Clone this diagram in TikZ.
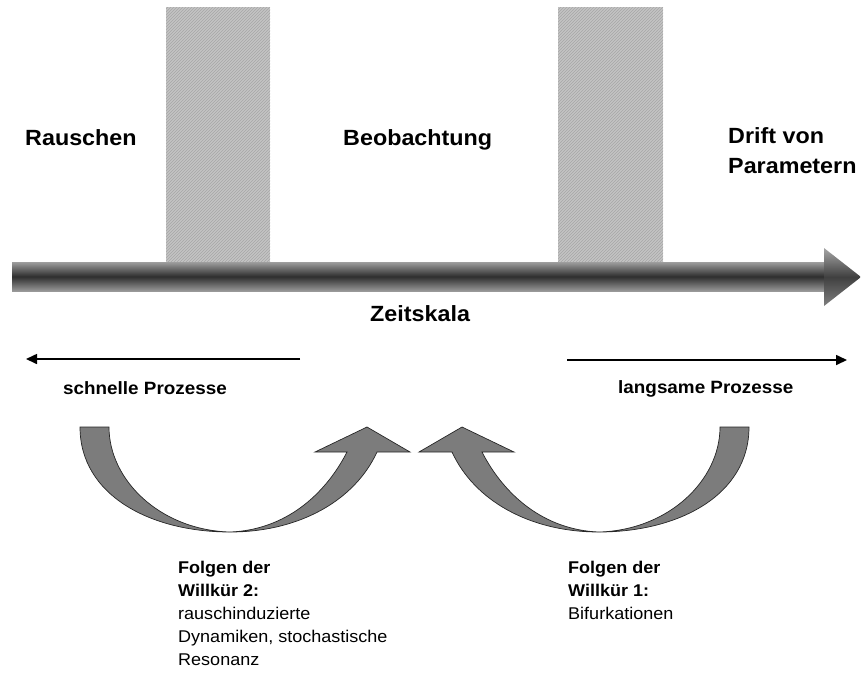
\documentclass[tikz,border=0pt]{standalone}
\usepackage{fontspec}
\setmainfont{Liberation Sans}[FakeStretch=1.06]
\usetikzlibrary{arrows.meta,patterns}
\definecolor{barfill}{HTML}{C4C4C4}
\definecolor{barline}{HTML}{A6A6A6}
\definecolor{curvefill}{HTML}{7C7C7C}
\tikzset{
  bigtxt/.style={font=\fontsize{22}{30}\selectfont\bfseries, inner sep=0pt, anchor=base west},
  smalltxt/.style={font=\fontsize{17.8}{23}\selectfont\bfseries, inner sep=0pt, anchor=base west},
  blocktxt/.style={font=\fontsize{17}{23}\selectfont, inner sep=0pt, anchor=north west, align=left},
  thinarrow/.style={line width=1.6pt, -{Triangle[length=11pt,width=10pt]}},
  curvearrow/.style={fill=curvefill, draw=black!85, line width=0.7pt, line join=miter},
  window/.style={fill=barfill, draw=none},
  windowhatch/.style={pattern=north east lines, pattern color=barline, draw=none}
}
\begin{document}
\begin{tikzpicture}[x=1pt,y=-1pt]
\useasboundingbox (0,0) rectangle (861,673);
% observation windows
\fill[window] (166,7) rectangle (270,263);
\fill[windowhatch] (166,7) rectangle (270,263);
\fill[window] (558,7) rectangle (663,263);
\fill[windowhatch] (558,7) rectangle (663,263);
% time axis arrow
\shade[top color=black!38, bottom color=black!40, middle color=black!82] (12,262) rectangle (824,291);
\shade[top color=black!35, bottom color=black!50, middle color=black!75] (824,248) -- (861,277) -- (824,306) -- cycle;
% labels
\node[bigtxt] (rausch) at (25,145) {Rauschen};
\node[bigtxt] (beob) at (343,145) {Beobachtung};
\node[bigtxt] (drift1) at (728,143) {Drift von};
\node[bigtxt] (drift2) at (728,173) {Parametern};
\node[bigtxt] (zeit) at (370,321) {Zeitskala};
% fast / slow arrows
\coordinate (fs) at (300,359);
\coordinate (fe) at (26,359);
\coordinate (ss) at (567,360);
\coordinate (se) at (847,360);
\draw[thinarrow] (fs) -- (fe);
\draw[thinarrow] (ss) -- (se);
\node[smalltxt] (schnell) at (63,394) {schnelle Prozesse};
\node[smalltxt] (langsam) at (618,393) {langsame Prozesse};
% curved arrows
\draw[curvearrow] (80,427) .. controls (80,495) and (150,532) .. (230,532)
  .. controls (300,532) and (355,500) .. (377,452)
  -- (410,452) -- (367,427) -- (315,452) -- (347,452)
  .. controls (325,495) and (285,530) .. (230,532)
  .. controls (160,530) and (109,480) .. (109,427) -- cycle;
\draw[curvearrow] (749,427) .. controls (749,495) and (679,532) .. (599,532)
  .. controls (529,532) and (474,500) .. (452,452)
  -- (419,452) -- (462,427) -- (514,452) -- (482,452)
  .. controls (504,495) and (544,530) .. (599,532)
  .. controls (669,530) and (720,480) .. (720,427) -- cycle;
% consequence texts
\node[blocktxt] (folg2) at (178,561) {\textbf{Folgen der}\\\textbf{Willkür 2:}\\rauschinduzierte\\Dynamiken, stochastische\\Resonanz};
\node[blocktxt] (folg1) at (568,561) {\textbf{Folgen der}\\\textbf{Willkür 1:}\\Bifurkationen};
\end{tikzpicture}
\end{document}
